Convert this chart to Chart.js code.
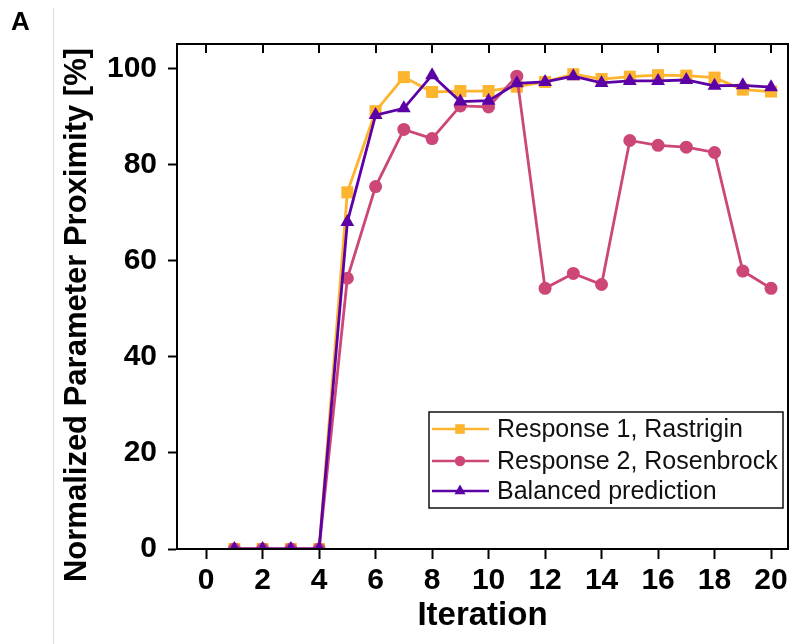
<!DOCTYPE html>
<html>
<head>
<meta charset="utf-8">
<script src="https://cdn.jsdelivr.net/npm/chart.js@4.4.0/dist/chart.umd.min.js"></script>
<style>
  html, body { margin: 0; padding: 0; background: #fff; }
  #wrap { width: 800px; height: 644px; }
</style>
</head>
<body>
<div id="wrap"><canvas id="proximityChart" width="800" height="644"></canvas></div>
<script>
// iteration index and normalized proximity (%) for each response
const iterations = [1, 2, 3, 4, 5, 6, 7, 8, 9, 10, 11, 12, 13, 14, 15, 16, 17, 18, 19, 20];
const rastrigin  = [0, 0, 0, 0, 74.3, 91.2, 98.3, 95.2, 95.4, 95.4, 96.3, 97.3, 98.9, 97.9, 98.4, 98.7, 98.6, 98.2, 95.7, 95.3];
const rosenbrock = [0, 0, 0, 0, 56.4, 75.5, 87.4, 85.5, 92.3, 92.1, 98.5, 54.3, 57.4, 55.1, 85.1, 84.1, 83.7, 82.6, 57.9, 54.3];
const balanced   = [0, 0, 0, 0, 68.1, 90.4, 91.8, 98.7, 93.2, 93.4, 97.0, 97.3, 98.5, 97.1, 97.5, 97.5, 97.7, 96.5, 96.6, 96.2];
const seriesNames = ['Response 1, Rastrigin', 'Response 2, Rosenbrock', 'Balanced prediction'];
const xTicks = [0, 2, 4, 6, 8, 10, 12, 14, 16, 18, 20];
const yTicks = [0, 20, 40, 60, 80, 100];

const COLORS = { orange: '#FDB42F', pink: '#CC4778', purple: '#5C01A6' };
const FONT = "'Liberation Sans', Arial, sans-serif";

const toPoints = values => values.map((v, i) => ({ x: iterations[i], y: v }));

// outer box, inward ticks along the top edge, y title, panel letter and divider
const framePlugin = {
    id: 'frame',
    afterDraw(chart) {
        const { ctx, chartArea: a, scales } = chart;
        ctx.save();
        ctx.strokeStyle = '#000';
        ctx.lineWidth = 2;
        ctx.strokeRect(a.left, a.top, a.right - a.left, a.bottom - a.top);
        ctx.beginPath();
        xTicks.forEach(v => {
            const px = Math.round(scales.x.getPixelForValue(v));
            ctx.moveTo(px, a.top);
            ctx.lineTo(px, a.top + 9);
        });
        ctx.stroke();

        ctx.strokeStyle = '#dcdcdc';
        ctx.lineWidth = 1;
        ctx.beginPath();
        ctx.moveTo(53.5, 8);
        ctx.lineTo(53.5, chart.height);
        ctx.stroke();

        ctx.fillStyle = '#000';
        ctx.font = `bold 26px ${FONT}`;
        ctx.textBaseline = 'alphabetic';
        ctx.textAlign = 'left';
        ctx.fillText('A', 11, 30);

        // axis title sits a little below the axis midpoint
        ctx.translate(77, 315);
        ctx.rotate(-Math.PI / 2);
        ctx.textAlign = 'center';
        ctx.textBaseline = 'middle';
        ctx.font = `bold 31px ${FONT}`;
        ctx.fillText('Normalized Parameter Proximity [%]', 0, 0);
        ctx.restore();
    }
};

// boxed legend with line + marker samples
const boxLegendPlugin = {
    id: 'boxLegend',
    afterDraw(chart) {
        const { ctx } = chart;
        const box = { left: 429, top: 412, right: 783, bottom: 508 };
        const rows = [429, 461, 491];
        ctx.save();
        ctx.fillStyle = '#fff';
        ctx.fillRect(box.left, box.top, box.right - box.left, box.bottom - box.top);
        ctx.strokeStyle = '#111';
        ctx.lineWidth = 1.5;
        ctx.strokeRect(box.left, box.top, box.right - box.left, box.bottom - box.top);

        chart.data.datasets
            .slice()
            .sort((a, b) => seriesNames.indexOf(a.label) - seriesNames.indexOf(b.label))
            .forEach((ds, i) => {
                const y = rows[i];
                ctx.strokeStyle = ds.borderColor;
                ctx.lineWidth = 2.5;
                ctx.beginPath();
                ctx.moveTo(432, y);
                ctx.lineTo(489, y);
                ctx.stroke();
                ctx.fillStyle = ds.pointBackgroundColor;
                ctx.strokeStyle = ds.pointBackgroundColor;
                Chart.helpers.drawPoint(ctx, {
                    pointStyle: ds.pointStyle,
                    radius: ds.pointRadius * 0.8,
                    rotation: 0,
                    borderWidth: 0
                }, 460, y);
                ctx.fillStyle = '#111';
                ctx.font = `25px ${FONT}`;
                ctx.textAlign = 'left';
                ctx.textBaseline = 'middle';
                ctx.fillText(ds.label, 497, y + 1);
            });
        ctx.restore();
    }
};

function createChart(canvasId) {
    const ctx = document.getElementById(canvasId);
    const lineSet = (label, values, color, style, radius, order) => ({
        label,
        data: toPoints(values),
        borderColor: color,
        backgroundColor: color,
        pointBackgroundColor: color,
        pointBorderColor: color,
        pointBorderWidth: 0,
        pointStyle: style,
        pointRadius: radius,
        borderWidth: 2.8,
        tension: 0,
        clip: 0,
        order
    });

    return new Chart(ctx.getContext('2d'), {
        type: 'line',
        data: {
            datasets: [
                lineSet(seriesNames[0], rastrigin, COLORS.orange, 'rect', 8.5, 3),
                lineSet(seriesNames[1], rosenbrock, COLORS.pink, 'circle', 6.5, 2),
                lineSet(seriesNames[2], balanced, COLORS.purple, 'triangle', 8, 1)
            ]
        },
        options: {
            responsive: false,
            animation: false,
            layout: { padding: { left: 55, top: 44, right: 12, bottom: 0 } },
            plugins: { legend: { display: false }, tooltip: { enabled: false } },
            scales: {
                x: {
                    type: 'linear',
                    min: -1.03,
                    max: 20.6,
                    afterBuildTicks: scale => { scale.ticks = xTicks.map(v => ({ value: v })); },
                    afterFit: scale => { scale.height = 95; },
                    grid: { drawOnChartArea: false, drawTicks: true, tickLength: 10, tickWidth: 2, tickColor: '#000' },
                    border: { display: true, color: '#000', width: 2 },
                    ticks: {
                        color: '#000',
                        padding: 4,
                        maxRotation: 0,
                        font: { family: FONT, size: 30, weight: 'bold' },
                        callback: v => String(v)
                    },
                    title: {
                        display: true,
                        text: 'Iteration',
                        color: '#000',
                        padding: { top: 0, bottom: 8 },
                        font: { family: FONT, size: 33, weight: 'bold' }
                    }
                },
                y: {
                    min: 0,
                    max: 105.2,
                    afterBuildTicks: scale => { scale.ticks = yTicks.map(v => ({ value: v })); },
                    afterFit: scale => { scale.width = 122; },
                    grid: { drawOnChartArea: false, drawTicks: true, tickLength: 9, tickWidth: 2, tickColor: '#000' },
                    border: { display: true, color: '#000', width: 2 },
                    ticks: {
                        color: '#000',
                        padding: 11,
                        font: { family: FONT, size: 30, weight: 'bold' },
                        callback: v => String(v)
                    },
                    title: { display: false }
                }
            }
        },
        plugins: [framePlugin, boxLegendPlugin]
    });
}

document.addEventListener('DOMContentLoaded', () => {
    createChart('proximityChart');
});
</script>
</body>
</html>
